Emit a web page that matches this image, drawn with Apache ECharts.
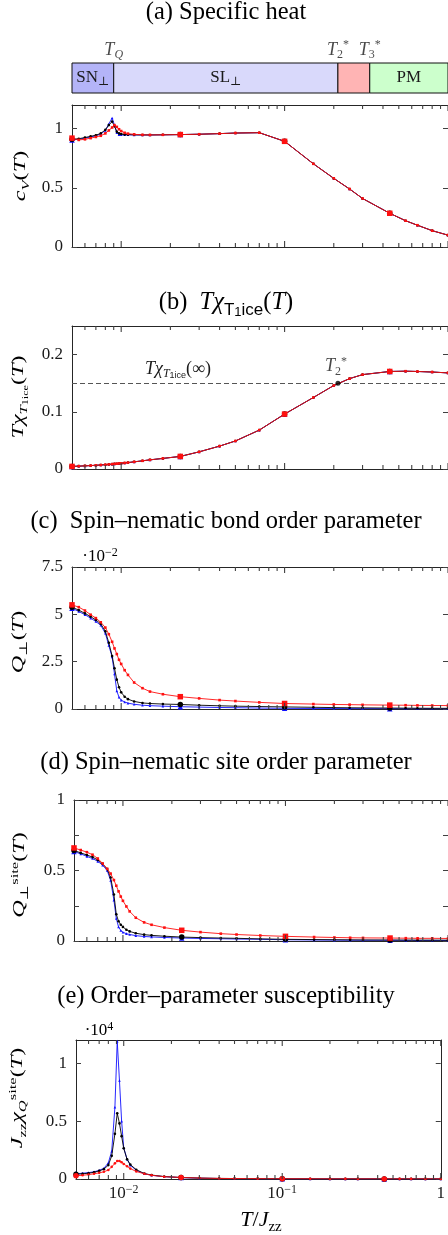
<!DOCTYPE html>
<html><head><meta charset="utf-8">
<script src="https://cdn.jsdelivr.net/npm/echarts@6.0.0/dist/echarts.min.js"></script>
<style>html,body{margin:0;padding:0;background:#fff;}#chart{width:448px;height:1235px;}</style>
</head><body><div id="chart"></div>
<script>
// ---------------- data ----------------
const temps = [0.005,0.0055,0.006,0.0065,0.007,0.0075,0.008,0.0084,0.0088,0.0091,0.0094,0.0097,0.01,0.0105,0.011,0.012,0.0135,0.015,0.018,0.023,0.03,0.04,0.05,0.07,0.1,0.15,0.2,0.25,0.3,0.44,0.55,0.65,0.8,1.0];

const cvBlack = [0.91,0.915,0.925,0.935,0.945,0.96,0.99,1.03,1.06,1.02,0.975,0.96,0.955,0.95,0.95,0.948,0.947,0.947,0.948,0.95,0.953,0.958,0.963,0.966,0.893,0.703,0.58,0.49,0.41,0.285,0.222,0.184,0.138,0.1];
const cvBlue  = [0.905,0.91,0.92,0.93,0.94,0.955,0.985,1.04,1.09,1.03,0.965,0.95,0.948,0.948,0.948,0.947,0.947,0.947,0.948,0.95,0.953,0.958,0.963,0.966,0.893,0.703,0.58,0.49,0.41,0.285,0.222,0.184,0.138,0.1];
const cvRed   = [0.92,0.905,0.91,0.92,0.93,0.94,0.96,0.985,1.01,1.03,1.015,0.995,0.98,0.965,0.958,0.952,0.948,0.947,0.948,0.95,0.953,0.958,0.963,0.966,0.893,0.703,0.58,0.49,0.41,0.285,0.222,0.184,0.138,0.1];

const tchiBlack = [0.0045,0.005,0.0055,0.006,0.0065,0.007,0.0075,0.008,0.0085,0.009,0.0093,0.0097,0.01,0.0106,0.0112,0.0125,0.0143,0.016,0.0185,0.022,0.03,0.04,0.049,0.068,0.096,0.125,0.146,0.158,0.165,0.1705,0.171,0.1705,0.1695,0.168];
const tchiBlue  = [0.0045,0.005,0.0055,0.006,0.0065,0.007,0.0075,0.008,0.0085,0.009,0.0093,0.0097,0.01,0.0106,0.0112,0.0125,0.0143,0.016,0.0185,0.022,0.03,0.04,0.049,0.068,0.096,0.125,0.146,0.158,0.165,0.1705,0.171,0.1705,0.1695,0.168];
const tchiRed   = [0.0045,0.005,0.0055,0.006,0.0065,0.007,0.0075,0.008,0.0085,0.009,0.0093,0.0097,0.01,0.0106,0.0112,0.0125,0.0143,0.016,0.0185,0.022,0.03,0.04,0.049,0.068,0.096,0.125,0.146,0.158,0.165,0.1705,0.171,0.1705,0.1695,0.168];
const tchiInfinity = 0.15;

// bond order parameter, in units of 1e-2
const qBondBlack = [5.38,5.22,5.05,4.88,4.7,4.5,4.1,3.5,2.8,2.15,1.55,1.15,0.88,0.65,0.52,0.4,0.32,0.29,0.26,0.24,0.2,0.17,0.15,0.13,0.11,0.09,0.075,0.065,0.06,0.05,0.045,0.04,0.037,0.035];
const qBondBlue  = [5.32,5.15,4.98,4.8,4.62,4.42,4.0,3.35,2.75,1.85,0.95,0.62,0.47,0.37,0.31,0.25,0.2,0.175,0.15,0.12,0.1,0.08,0.07,0.05,0.035,0.028,0.024,0.022,0.02,0.018,0.016,0.015,0.014,0.013];
const qBondRed   = [5.5,5.38,5.2,4.98,4.8,4.58,4.3,3.95,3.55,3.2,2.9,2.6,2.38,2.05,1.8,1.4,1.1,0.92,0.78,0.65,0.56,0.47,0.42,0.35,0.29,0.26,0.24,0.23,0.22,0.205,0.2,0.19,0.185,0.18];

const qSiteBlack = [0.642,0.625,0.61,0.595,0.575,0.548,0.51,0.45,0.33,0.19,0.14,0.115,0.1,0.08,0.068,0.055,0.045,0.04,0.034,0.028,0.024,0.021,0.019,0.015,0.012,0.01,0.009,0.008,0.0075,0.007,0.0065,0.006,0.006,0.0055];
const qSiteBlue  = [0.634,0.618,0.6,0.585,0.565,0.538,0.5,0.43,0.29,0.16,0.1,0.075,0.062,0.052,0.046,0.038,0.032,0.029,0.025,0.021,0.018,0.016,0.014,0.012,0.009,0.007,0.006,0.0055,0.005,0.005,0.0045,0.004,0.004,0.004];
const qSiteRed   = [0.66,0.645,0.63,0.612,0.585,0.55,0.512,0.478,0.432,0.392,0.352,0.315,0.285,0.245,0.21,0.165,0.132,0.115,0.095,0.076,0.063,0.052,0.046,0.039,0.033,0.028,0.025,0.023,0.022,0.021,0.02,0.019,0.019,0.018];

// susceptibility, in units of 1e4
const chiBlack = [0.04,0.045,0.05,0.058,0.07,0.085,0.12,0.2,0.39,0.568,0.48,0.37,0.265,0.17,0.125,0.08,0.047,0.034,0.021,0.013,0.008,0.005,0.004,0.003,0.002,0.0015,0.001,0.001,0.001,0.001,0.001,0.001,0.001,0.001];
const chiBlue  = [0.045,0.05,0.055,0.062,0.075,0.092,0.14,0.24,0.62,1.19,0.85,0.5,0.27,0.17,0.12,0.075,0.045,0.032,0.02,0.012,0.007,0.004,0.003,0.002,0.0015,0.001,0.001,0.001,0.001,0.001,0.001,0.001,0.001,0.001];
const chiRed   = [0.028,0.032,0.038,0.045,0.053,0.062,0.078,0.105,0.135,0.155,0.155,0.145,0.13,0.11,0.09,0.065,0.045,0.032,0.02,0.013,0.008,0.005,0.004,0.003,0.002,0.0015,0.001,0.001,0.001,0.001,0.001,0.001,0.001,0.001];

// phases
const phaseEdges = [0.005, 0.009, 0.212, 0.332, 1];
const phaseNames = ['SN', 'SL', '', 'PM'];
const boundaryNames = ['TQ', 'T2', 'T3'];
const T2star = 0.212;

// axes
const xMin = 0.005, xMax = 1;
const xMajorTicks = [0.01, 0.1, 1];
const xMinorTicks = [0.006,0.007,0.008,0.009,0.02,0.03,0.04,0.05,0.06,0.07,0.08,0.09,0.2,0.3,0.4,0.5,0.6,0.7,0.8,0.9];
const xTickLabels = ['10|−2', '10|−1', '1'];
const yTicksA = [0, 0.5, 1],             yLabelsA = [0, 0.5, 1];
const yTicksB = [0, 0.1, 0.2],           yLabelsB = [0, 0.1, 0.2];
const yTicksC = [0, 2.5, 5, 7.5],        yLabelsC = [0, 2.5, 5, 7.5];
const yTicksD = [0, 0.25, 0.5, 0.75, 1], yLabelsD = [0, 0.5, 1];
const yTicksE = [0, 0.5, 1],             yLabelsE = [0, 0.5, 1];
const bigMarkT = [0.005, 0.023, 0.1, 0.44];

// ---------------- styling / building ----------------
const TXT = '#1a1a1a';
const FRAME = '#262626';
const TICK = '#404040';
const SERIF = '"Liberation Serif","DejaVu Serif",serif';
const SANS = '"Liberation Sans","DejaVu Sans",sans-serif';

function richSet(fs) {
  const lh = Math.round(fs * 1.3), s = Math.round(fs * 0.7), s2 = Math.round(fs * 0.52);
  const base = {fontFamily: SERIF, color: TXT};
  return {
    r:   {...base, fontSize: fs, lineHeight: lh},
    i:   {...base, fontStyle: 'italic', fontSize: fs, lineHeight: lh},
    sb:  {...base, fontSize: s, lineHeight: s, verticalAlign: 'bottom'},
    si:  {...base, fontStyle: 'italic', fontSize: s, lineHeight: s, verticalAlign: 'bottom'},
    sp:  {...base, fontSize: s, lineHeight: s, verticalAlign: 'top'},
    ss:  {...base, fontSize: s2, lineHeight: s2, verticalAlign: 'bottom'},
    sf:  {fontFamily: SANS, color: TXT, fontSize: s, lineHeight: s, verticalAlign: 'bottom'},
    sf2: {fontFamily: SANS, color: TXT, fontSize: s2, lineHeight: s2, verticalAlign: 'bottom'}
  };
}

const grids = [
  {left: 72, top: 63, height: 30, right: -3},
  {left: 72, top: 105, height: 142, right: -3},
  {left: 72, top: 326, height: 143, right: -3},
  {left: 72, top: 567, height: 142, right: -3},
  {left: 74, top: 800, height: 141, right: -2},
  {left: 76, top: 1040, height: 139, right: 2}
];

const xAxes = [{type: 'log', min: xMin, max: xMax, gridIndex: 0, show: false}];
const yAxes = [{type: 'value', min: 0, max: 1, gridIndex: 0, show: false}];

function fmtX(v) {
  for (let k = 0; k < xMajorTicks.length; k++) {
    if (Math.abs(v - xMajorTicks[k]) < 1e-6 * xMajorTicks[k]) {
      const parts = xTickLabels[k].split('|');
      return parts.length > 1 ? '{n|' + parts[0] + '}{e|' + parts[1] + '}' : '{n|' + parts[0] + '}';
    }
  }
  return '';
}

const panelY = [
  {min: 0, max: 1.2, ticks: yTicksA, labels: yLabelsA},
  {min: 0, max: 0.25, ticks: yTicksB, labels: yLabelsB},
  {min: 0, max: 7.5, ticks: yTicksC, labels: yLabelsC},
  {min: 0, max: 1, ticks: yTicksD, labels: yLabelsD},
  {min: 0, max: 1.2, ticks: yTicksE, labels: yLabelsE}
];

const series = [];
for (let p = 0; p < 5; p++) {
  const g = p + 1;
  const last = p === 4;
  const base = {type: 'log', min: xMin, max: xMax, gridIndex: g, splitLine: {show: false}, axisTick: {show: false}, minorTick: {show: false}};
  const lineOn = {show: true, onZero: false, lineStyle: {color: FRAME, width: 1}};
  xAxes.push({...base, position: 'bottom', axisLine: lineOn,
    axisLabel: last ? {show: true, customValues: xMajorTicks, formatter: fmtX, margin: 5, showMinLabel: true, showMaxLabel: true,
      rich: {n: {fontFamily: SERIF, fontSize: 17, color: TXT, lineHeight: 20},
             e: {fontFamily: SERIF, fontSize: 12, color: TXT, lineHeight: 12, verticalAlign: 'top'}}} : {show: false}});
  xAxes.push({...base, position: 'top', axisLine: lineOn, axisLabel: {show: false}});
  const py = panelY[p];
  yAxes.push({type: 'value', gridIndex: g, min: py.min, max: py.max, position: 'left', splitLine: {show: false},
    axisLine: {show: true, onZero: false, lineStyle: {color: FRAME, width: 1}},
    axisTick: {show: true, inside: true, length: 5, customValues: py.ticks, lineStyle: {color: TICK, width: 1}},
    axisLabel: {show: true, customValues: py.labels, margin: 9, fontFamily: SERIF, fontSize: 17, color: TXT, formatter: v => String(v)}});
  yAxes.push({type: 'value', gridIndex: g, min: py.min, max: py.max, position: 'right', splitLine: {show: false},
    axisLine: {show: true, onZero: false, lineStyle: {color: FRAME, width: 1}},
    axisTick: {show: true, inside: true, length: 5, customValues: py.ticks, lineStyle: {color: TICK, width: 1}},
    axisLabel: {show: false}});

  // inward x ticks on bottom and top, positioned through the axis scale
  const tickVals = xMajorTicks.concat(xMinorTicks);
  series.push({
    type: 'custom', xAxisIndex: 1 + p * 2, yAxisIndex: 1 + p * 2, z: 20, silent: true, clip: false,
    data: tickVals.map(t => [t, xMajorTicks.indexOf(t) >= 0 ? 1 : 0]),
    encode: {x: 0},
    renderItem: (params, api) => {
      const t = api.value(0);
      const len = api.value(1) ? 6 : 4;
      const pb = api.coord([t, py.min]);
      const pt = api.coord([t, py.max]);
      return {type: 'group', children: [
        {type: 'line', shape: {x1: pb[0], y1: pb[1], x2: pb[0], y2: pb[1] - len}, style: {stroke: TICK, lineWidth: 1.1}},
        {type: 'line', shape: {x1: pt[0], y1: pt[1], x2: pt[0], y2: pt[1] + len}, style: {stroke: TICK, lineWidth: 1.1}}
      ]};
    },
    animation: false
  });
}

const bigIdx = new Set(bigMarkT.map(t => temps.indexOf(t)));
function lineSeries(p, values, color, symbol, z) {
  return {
    type: 'line', xAxisIndex: 1 + p * 2, yAxisIndex: 1 + p * 2, z: z,
    data: temps.map((t, i) => [t, values[i]]),
    lineStyle: {color: color, width: 0.9},
    itemStyle: {color: color},
    symbol: symbol, showSymbol: true, showAllSymbol: true,
    symbolSize: (v, params) => bigIdx.has(params.dataIndex) ? 5.5 : 2.6,
    emphasis: {disabled: true}, animation: false, clip: true
  };
}

const panelSeries = [
  [cvBlue, cvBlack, cvRed],
  [tchiBlue, tchiBlack, tchiRed],
  [qBondBlue, qBondBlack, qBondRed],
  [qSiteBlue, qSiteBlack, qSiteRed],
  [chiBlue, chiBlack, chiRed]
];
panelSeries.forEach((arr, p) => {
  series.push(lineSeries(p, arr[0], '#1010ff', 'triangle', 3));
  series.push(lineSeries(p, arr[1], '#000000', 'circle', 4));
  series.push(lineSeries(p, arr[2], '#ff1010', p === 4 ? 'circle' : 'rect', 5));
});

// phase bar
const phaseColors = ['#b4b4f8', '#d9d9fb', '#ffb4b4', '#ccffcc'];
const phaseRich = {
  r: {fontFamily: SERIF, fontSize: 17, color: TXT, lineHeight: 20},
  s: {fontFamily: '"DejaVu Serif",serif', fontSize: 12, color: TXT, lineHeight: 12, verticalAlign: 'bottom'}
};
const bRich = {
  i: {fontFamily: SERIF, fontStyle: 'italic', fontSize: 18, color: TXT, lineHeight: 22},
  si: {fontFamily: SERIF, fontStyle: 'italic', fontSize: 12, color: TXT, lineHeight: 12, verticalAlign: 'bottom'},
  sb: {fontFamily: SERIF, fontSize: 12, color: TXT, lineHeight: 12, verticalAlign: 'bottom'},
  sp: {fontFamily: SERIF, fontSize: 12, color: TXT, lineHeight: 12, verticalAlign: 'top'}
};
function boundaryLabel(name) {
  if (name === 'TQ') return '{i|T}{si|Q}';
  if (name === 'T2') return '{i|T}{sb|2}{sp|*}';
  return '{i|T}{sb|3}{sp|*}';
}
series.push({
  type: 'scatter', xAxisIndex: 0, yAxisIndex: 0, z: 10,
  data: phaseEdges.slice(1, 4).map((t, k) => ({value: [t, 1], name: boundaryNames[k]})),
  symbolSize: 0.01, itemStyle: {color: 'transparent'},
  label: {show: true, position: 'top', distance: 2, formatter: prm => boundaryLabel(prm.name), rich: bRich},
  markArea: {
    silent: true,
    data: phaseNames.map((nm, k) => [
      {name: nm, xAxis: phaseEdges[k], yAxis: 0, itemStyle: {color: phaseColors[k], opacity: 1, borderColor: '#111', borderWidth: 1}},
      {xAxis: phaseEdges[k + 1], yAxis: 1}
    ]),
    label: {show: true, position: 'inside',
      formatter: prm => !prm.name ? '' : (prm.name === 'PM' ? '{r|PM}' : '{r|' + prm.name + '}{s|⊥}'), rich: phaseRich}
  },
  animation: false
});

// panel (b) reference line and T2* point
const infRich = {
  i: {fontFamily: SERIF, fontStyle: 'italic', fontSize: 18, color: TXT, lineHeight: 22},
  r: {fontFamily: SERIF, fontSize: 18, color: TXT, lineHeight: 22},
  si: {fontFamily: SERIF, fontStyle: 'italic', fontSize: 12, color: TXT, lineHeight: 12, verticalAlign: 'bottom'},
  sf2: {fontFamily: SANS, fontSize: 9, color: TXT, lineHeight: 9, verticalAlign: 'bottom'}
};
series.push({
  type: 'scatter', xAxisIndex: 3, yAxisIndex: 3, z: 12,
  data: [[T2star, tchiInfinity]],
  symbol: 'circle', symbolSize: 5, itemStyle: {color: '#000'},
  label: {show: true, position: 'top', distance: 3, offset: [-2, 0], formatter: () => '{i|T}{sb|2}{sp|*}', rich: bRich},
  markLine: {
    silent: true, symbol: 'none',
    lineStyle: {color: '#555', type: [5, 3], width: 1.2},
    data: [{yAxis: tchiInfinity}],
    label: {show: true, position: 'insideStartTop', padding: [0, 0, 0, 70], distance: 3,
      formatter: () => '{i|Tχ}{si|T}{sf2|1ice}{r|(∞)}', rich: infRich}
  },
  animation: false
});

// texts
const tRich = richSet(24.5);
const titles = [
  ['{r|(a) Specific heat}', 13],
  ['{r|(b)  }{i|Tχ}{sf|T}{sf2|1}{sf|ice}{r|(}{i|T}{r|)}', 303],
  ['{r|(c)  Spin–nematic bond order parameter}', 522],
  ['{r|(d) Spin–nematic site order parameter}', 763],
  ['{r|(e) Order–parameter susceptibility}', 997]
];
const graphic = titles.map(([txt, y]) => ({
  type: 'text', x: 226, y: y, z: 100,
  style: {text: txt, rich: tRich, align: 'center', verticalAlign: 'middle', textAlign: 'center', textVerticalAlign: 'middle'}
}));

const yRich = richSet(22);
const yNames = [
  ['{i|c}{si|V}{r|(}{i|T}{r|)}', 21, 176],
  ['{i|Tχ}{si|T}{ss|1ice}{r|(}{i|T}{r|)}', 19, 397],
  ['{i|Q}{sb|⊥}{r|(}{i|T}{r|)}', 19, 642],
  ['{i|Q}{sb|⊥}{sp|site}{r|(}{i|T}{r|)}', 20, 875],
  ['{i|J}{sb|zz}{i|χ}{si|Q}{sp|site}{r|(}{i|T}{r|)}', 18, 1098]
];
yNames.forEach(([txt, x, y]) => graphic.push({
  type: 'text', x: x, y: y, rotation: Math.PI / 2, scaleX: 1.1, scaleY: 0.75, z: 100,
  style: {text: txt, rich: yRich, align: 'center', verticalAlign: 'middle', textAlign: 'center', textVerticalAlign: 'middle'}
}));

const expRich = {
  r: {fontFamily: SERIF, fontSize: 17, color: TXT, lineHeight: 20},
  e: {fontFamily: SERIF, fontSize: 12, color: TXT, lineHeight: 12, verticalAlign: 'top'}
};
graphic.push({type: 'text', x: 100, y: 557, z: 100, style: {text: '{r|·10}{e|−2}', rich: expRich, align: 'center', verticalAlign: 'middle', textAlign: 'center', textVerticalAlign: 'middle'}});
graphic.push({type: 'text', x: 99, y: 1031, z: 100, style: {text: '{r|·10}{e|4}', rich: expRich, align: 'center', verticalAlign: 'middle', textAlign: 'center', textVerticalAlign: 'middle'}});
graphic.push({type: 'text', x: 261, y: 1220, z: 100, style: {text: '{i|T}{r|/}{i|J}{sb|zz}', rich: richSet(22), align: 'center', verticalAlign: 'middle', textAlign: 'center', textVerticalAlign: 'middle'}});

const chart = echarts.init(document.getElementById('chart'), null, {renderer: 'canvas'});
chart.setOption({
  animation: false,
  backgroundColor: '#ffffff',
  grid: grids,
  xAxis: xAxes,
  yAxis: yAxes,
  series: series,
  graphic: graphic
});
</script></body></html>
